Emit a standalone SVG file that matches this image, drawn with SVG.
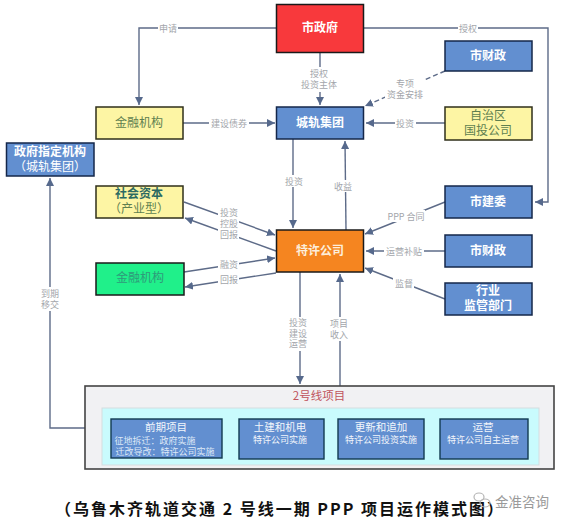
<svg xmlns="http://www.w3.org/2000/svg" width="568" height="526" viewBox="0 0 568 526">
<style>
text{font-family:"Noto Sans CJK SC","Liberation Sans",sans-serif;text-anchor:middle}
.n{stroke:#1a1a1a;stroke-width:1.5}
.blue{fill:#628fd0;stroke:#14274a}
.yel{fill:#fdf5a4;stroke:#2f2f1a}
.wt{fill:#fff;font-size:12px;font-weight:700}
.wr{fill:#fff;font-size:12px}
.gt{fill:#5f7f50;font-size:12px}
.c{fill:none;stroke:#5d6b88;stroke-width:1.4}
.l{fill:#a3a6ab;font-size:9px}
.bg{fill:#fff;stroke:none}
.in{fill:#628fd0;stroke:#123a50;stroke-width:1.4}
.s1{fill:#f2f6fb;font-size:10.5px}
.s2{fill:#dfe9f7;font-size:9px}
</style>
<defs>
<marker id="ah" markerUnits="userSpaceOnUse" markerWidth="9" markerHeight="8" refX="8" refY="4" orient="auto">
<path d="M0 0L8 4L0 8Z" fill="#56698c"/>
</marker>
</defs>
<rect width="568" height="526" fill="#fff"/>
<g id="connectors">
<path class="c" d="M276 28H139V105" marker-end="url(#ah)"/>
<path class="c" d="M364 28H548V202H535" marker-end="url(#ah)"/>
<path class="c" d="M320 52V105" marker-end="url(#ah)"/>
<path class="c" d="M445 71L365 106" stroke-dasharray="5 3" marker-end="url(#ah)"/>
<path class="c" d="M183 123H275" marker-end="url(#ah)"/>
<path class="c" d="M445 123H366" marker-end="url(#ah)"/>
<path class="c" d="M293 139V228" marker-end="url(#ah)"/>
<path class="c" d="M346 230L345 141" marker-end="url(#ah)"/>
<path class="c" d="M184 202L275 235" marker-end="url(#ah)"/>
<path class="c" d="M276 251L185 218" marker-end="url(#ah)"/>
<path class="c" d="M184 272L275 258" marker-end="url(#ah)"/>
<path class="c" d="M276 273L185 287" marker-end="url(#ah)"/>
<path class="c" d="M445 202L365 234" marker-end="url(#ah)"/>
<path class="c" d="M445 251H366" marker-end="url(#ah)"/>
<path class="c" d="M445 299L365 268" marker-end="url(#ah)"/>
<path class="c" d="M300 272V384" marker-end="url(#ah)"/>
<path class="c" d="M340 386V274" marker-end="url(#ah)"/>
<path class="c" d="M85 428H50V178" marker-end="url(#ah)"/>
</g>
<g id="labels">
<rect class="bg" x="158" y="22" width="20" height="12"/><text class="l" x="168" y="32">申请</text>
<rect class="bg" x="458" y="22" width="20" height="12"/><text class="l" x="468" y="32">授权</text>
<rect class="bg" x="298" y="67" width="44" height="25"/><text class="l" x="319" y="77"><tspan x="319">授权</tspan><tspan x="319" dy="11">投资主体</tspan></text>
<rect class="bg" x="385" y="76" width="40" height="25"/><text class="l" x="405" y="87"><tspan x="405">专项</tspan><tspan x="405" dy="11">资金安排</tspan></text>
<rect class="bg" x="209" y="117" width="40" height="12"/><text class="l" x="229" y="127">建设债券</text>
<rect class="bg" x="395" y="117" width="21" height="12"/><text class="l" x="405" y="127">投资</text>
<rect class="bg" x="283" y="175" width="21" height="12"/><text class="l" x="294" y="185">投资</text>
<rect class="bg" x="333" y="180" width="21" height="12"/><text class="l" x="343" y="190">收益</text>
<rect class="bg" x="218" y="207" width="21" height="33"/><text class="l" x="229" y="216"><tspan x="229">投资</tspan><tspan x="229" dy="11">控股</tspan><tspan x="229" dy="10.500">回报</tspan></text>
<rect class="bg" x="218" y="259" width="21" height="12"/><text class="l" x="229" y="268">融资</text>
<rect class="bg" x="218" y="274" width="21" height="12"/><text class="l" x="229" y="283">回报</text>
<rect class="bg" x="389" y="210" width="36" height="12"/><text class="l" x="406" y="220">PPP 合同</text>
<rect class="bg" x="384" y="245" width="40" height="12"/><text class="l" x="404" y="255">运营补贴</text>
<rect class="bg" x="393" y="277" width="21" height="12"/><text class="l" x="404" y="287">监督</text>
<rect class="bg" x="288" y="317" width="22" height="34"/><text class="l" x="298" y="326"><tspan x="298">投资</tspan><tspan x="298" dy="11">建设</tspan><tspan x="298" dy="10">运营</tspan></text>
<rect class="bg" x="328" y="317" width="22" height="24"/><text class="l" x="339" y="327"><tspan x="339">项目</tspan><tspan x="339" dy="10.500">收入</tspan></text>
<rect class="bg" x="39" y="287" width="22" height="24"/><text class="l" x="50" y="297"><tspan x="50">到期</tspan><tspan x="50" dy="11">移交</tspan></text>
</g>
<g id="n-shizhengfu"><rect class="n" x="276.500" y="4.500" width="87" height="48" fill="#f8393c" stroke="#8c1f24"/><text class="wt" x="320" y="32">市政府</text></g>
<g id="n-shicaizheng1"><rect class="n blue" x="445" y="41" width="87" height="30"/><text class="wt" x="488" y="60">市财政</text></g>
<g id="n-chengui"><rect class="n blue" x="276.500" y="107" width="87" height="32"/><text class="wt" x="320" y="127">城轨集团</text></g>
<g id="n-guotou"><rect class="n yel" x="445" y="107" width="87" height="33"/><text class="gt" x="488" y="120"><tspan x="488">自治区</tspan><tspan x="488" dy="15">国投公司</tspan></text></g>
<g id="n-jinrong1"><rect class="n yel" x="96" y="107" width="87" height="32"/><text class="gt" x="139" y="127">金融机构</text></g>
<g id="n-zhiding"><rect class="n blue" x="6.500" y="143" width="87.500" height="33"/><text class="wr" x="50" y="156"><tspan x="50" font-weight="700">政府指定机构</tspan><tspan x="50" dy="15">（城轨集团）</tspan></text></g>
<g id="n-shehui"><rect class="n yel" x="96" y="186" width="87" height="32"/><text class="gt" x="139" y="198"><tspan x="139" fill="#2b6a62" font-weight="700">社会资本</tspan><tspan x="139" dy="14.500">（产业型）</tspan></text></g>
<g id="n-jinrong2"><rect class="n" x="96" y="263" width="88" height="32" fill="#20f08a" stroke="#0f5a3a"/><text x="140" y="282" fill="#2f9a7a" font-size="12">金融机构</text></g>
<g id="n-texu"><rect class="n" x="276.500" y="230" width="87" height="42" fill="#f58520" stroke="#3a2a10"/><text class="wt" x="320" y="255" style="fill:#fdeedb">特许公司</text></g>
<g id="n-jianwei"><rect class="n blue" x="445" y="186" width="87" height="32"/><text class="wt" x="488" y="206">市建委</text></g>
<g id="n-shicaizheng2"><rect class="n blue" x="445" y="235" width="87" height="32"/><text class="wt" x="488" y="255">市财政</text></g>
<g id="n-hangye"><rect class="n blue" x="445" y="283" width="87" height="32"/><text class="wt" x="488" y="295"><tspan x="488">行业</tspan><tspan x="488" dy="15">监管部门</tspan></text></g>
<g id="n-project">
<rect x="85" y="386" width="469" height="83" fill="#f1f1f3" stroke="#444" stroke-width="1.6"/>
<text x="319" y="400" fill="#c0545c" font-size="11.500">2号线项目</text>
<rect x="102" y="408" width="437" height="57" fill="#c9fbfd" stroke="#d5dde0"/>
</g>
<g id="n-qianqi"><rect class="in" x="111" y="419" width="111" height="39"/><text class="s1" x="166" y="431">前期项目</text><text class="s2" x="155" y="444"><tspan x="155">征地拆迁：政府实施</tspan><tspan x="165" dy="11">迁改导改：特许公司实施</tspan></text></g>
<g id="n-tujian"><rect class="in" x="239" y="419" width="85" height="40"/><text class="s1" x="280" y="431"><tspan x="280">土建和机电</tspan><tspan x="280" dy="12" font-size="9">特许公司实施</tspan></text></g>
<g id="n-gengxin"><rect class="in" x="338" y="419" width="86" height="40"/><text class="s1" x="381" y="431"><tspan x="381">更新和追加</tspan><tspan x="381" dy="12" font-size="9">特许公司投资实施</tspan></text></g>
<g id="n-yunying"><rect class="in" x="440" y="419" width="88" height="40"/><text class="s1" x="483" y="431"><tspan x="483">运营</tspan><tspan x="483" dy="12" font-size="9">特许公司自主运营</tspan></text></g>
<text x="280" y="515" fill="#111" font-size="16" font-weight="700" letter-spacing="2" style="font-family:'Noto Sans CJK SC','Liberation Serif',serif">（乌鲁木齐轨道交通 2 号线一期 PPP 项目运作模式图）</text>
<g id="watermark" fill="none" stroke="#b5b5b5" stroke-width="1.2"><ellipse cx="479" cy="497" rx="5" ry="4"/><ellipse cx="485" cy="503" rx="5" ry="4"/></g>
<text x="522" y="507" fill="#9a9a9a" font-size="13.500">金准咨询</text>
</svg>
